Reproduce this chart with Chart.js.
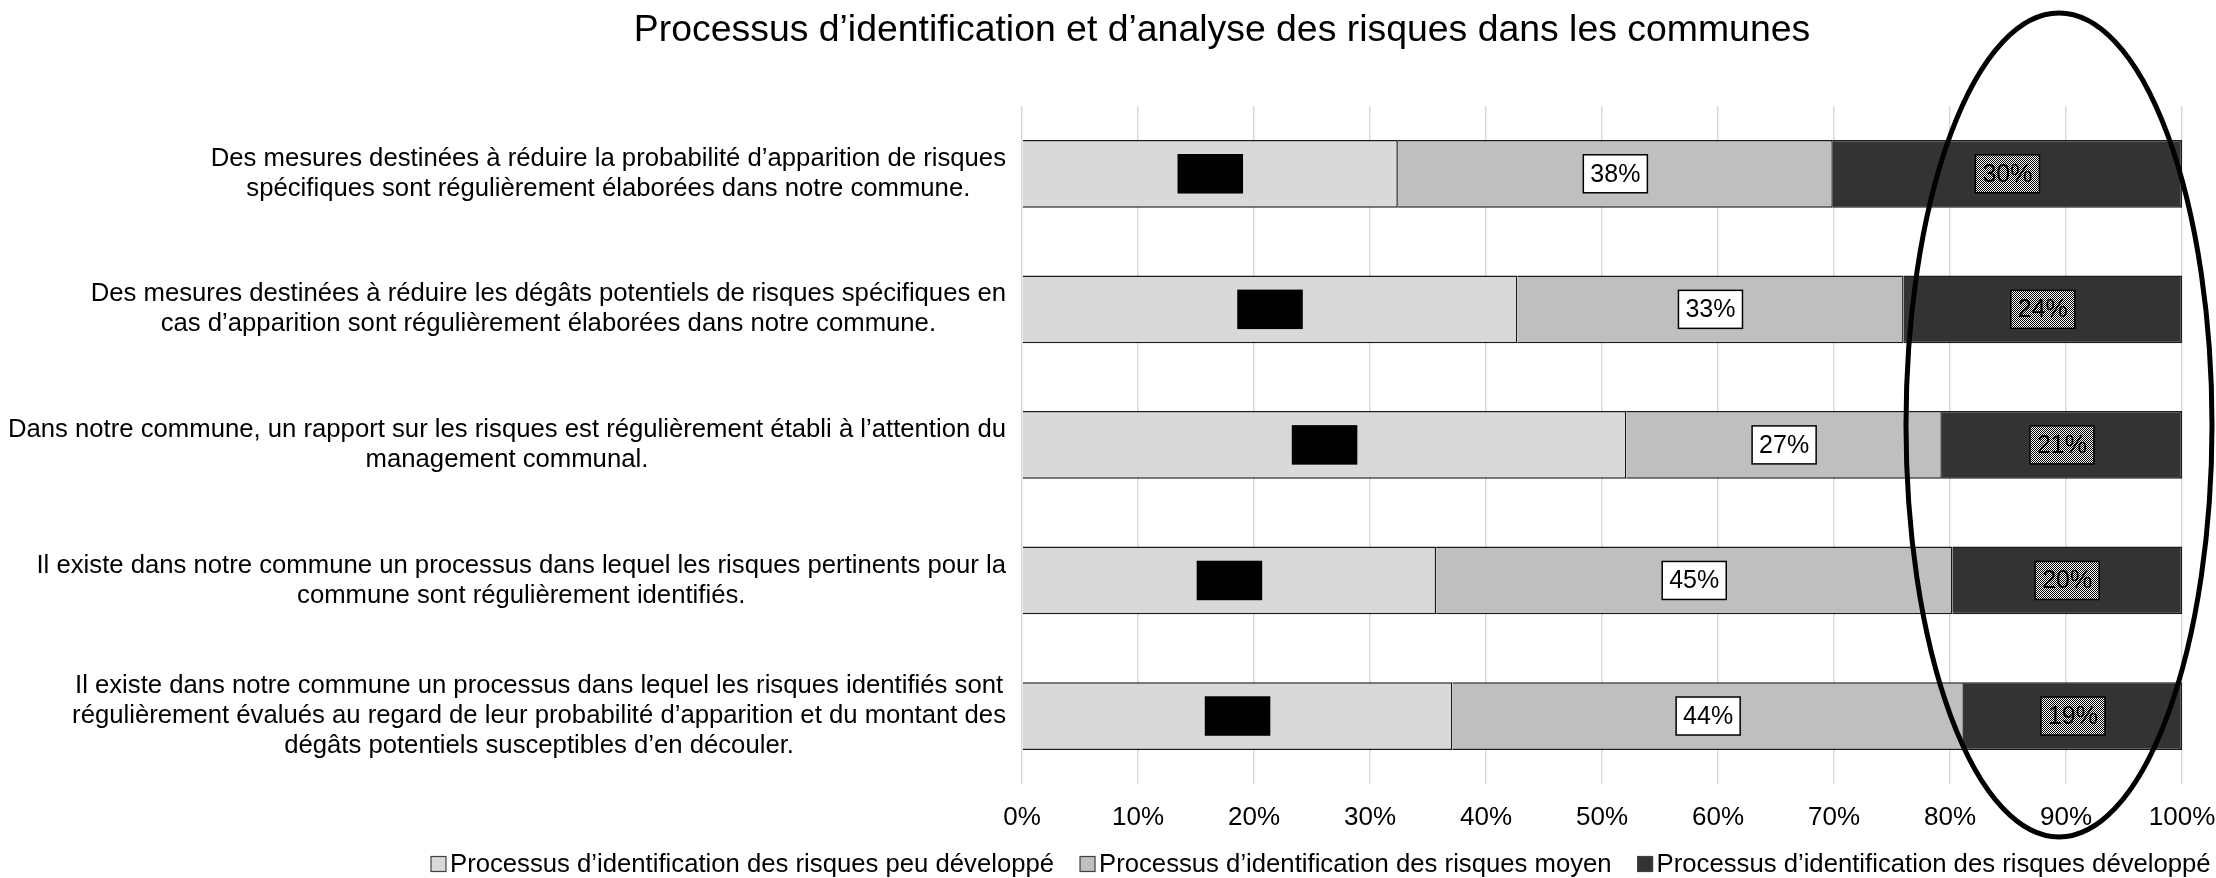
<!DOCTYPE html>
<html>
<head>
<meta charset="utf-8">
<script src="https://cdn.jsdelivr.net/npm/chart.js@4.4.1/dist/chart.umd.min.js"></script>
<style>
  html, body { margin: 0; padding: 0; background: #fff; }
  #wrap { width: 2216px; height: 878px; }
</style>
</head>
<body>
<div id="wrap"><canvas id="riskChart" width="2216" height="878"></canvas></div>
<script>
// Chart data
const chartTitle = 'Processus d’identification et d’analyse des risques dans les communes';

const categories = [
    ['Des mesures destinées à réduire la probabilité d’apparition de risques', 'spécifiques sont régulièrement élaborées dans notre commune.'],
    ['Des mesures destinées à réduire les dégâts potentiels de risques spécifiques en', 'cas d’apparition sont régulièrement élaborées dans notre commune.'],
    ['Dans notre commune, un rapport sur les risques est régulièrement établi à l’attention du', 'management communal.'],
    ['Il existe dans notre commune un processus dans lequel les risques pertinents pour la', 'commune sont régulièrement identifiés.'],
    ['Il existe dans notre commune un processus dans lequel les risques identifiés sont', 'régulièrement évalués au regard de leur probabilité d’apparition et du montant des', 'dégâts potentiels susceptibles d’en découler.']
];

const seriesNames = [
    'Processus d’identification des risques peu développé',
    'Processus d’identification des risques moyen',
    'Processus d’identification des risques développé'
];

const peuDeveloppe = [32.4, 42.7, 52.1, 35.7, 37.1];
const moyen        = [37.5, 33.3, 27.2, 44.5, 44.1];
const developpe    = [30.1, 24.0, 20.7, 19.8, 18.8];

const xTicks = [0, 10, 20, 30, 40, 50, 60, 70, 80, 90, 100];

const FONT = '"Liberation Sans", Arial, sans-serif';

// checkered fill used behind the labels of the dark series
function makeChecker() {
    const c = document.createElement('canvas');
    c.width = 2; c.height = 2;
    const g = c.getContext('2d');
    g.fillStyle = '#fff';
    g.fillRect(0, 0, 2, 2);
    g.fillStyle = '#000';
    g.fillRect(0, 0, 1, 1);
    g.fillRect(1, 1, 1, 1);
    return c;
}

// label boxes drawn at the middle of each segment
const labelBoxes = {
    id: 'labelBoxes',
    afterDatasetsDraw(chart) {
        const ctx = chart.ctx;
        const styles = [
            { fill: '#000', text: '#000' },
            { fill: '#fff', text: '#000' },
            { fill: ctx.createPattern(makeChecker(), 'repeat'), text: '#000' }
        ];
        ctx.save();
        ctx.font = '25px ' + FONT;
        ctx.textAlign = 'center';
        ctx.textBaseline = 'middle';
        chart.data.datasets.forEach((ds, i) => {
            const meta = chart.getDatasetMeta(i);
            meta.data.forEach((bar, j) => {
                const txt = Math.round(ds.data[j]) + '%';
                const cx = (bar.x + bar.base) / 2;
                const cy = bar.y;
                const w = ctx.measureText(txt).width + 14;
                const h = 38;
                ctx.fillStyle = styles[i].fill;
                ctx.fillRect(cx - w / 2, cy - h / 2, w, h);
                ctx.lineWidth = 1.5;
                ctx.strokeStyle = '#000';
                ctx.strokeRect(cx - w / 2, cy - h / 2, w, h);
                ctx.fillStyle = styles[i].text;
                ctx.fillText(txt, cx, cy + 1);
            });
        });
        ctx.restore();
    }
};

// category labels: each block right aligned, its lines centred
const categoryLabels = {
    id: 'categoryLabels',
    afterDraw(chart) {
        const ctx = chart.ctx;
        const yScale = chart.scales.y;
        const right = 1006;
        const lineH = 30;
        ctx.save();
        ctx.font = '25.7px ' + FONT;
        ctx.fillStyle = '#000';
        ctx.textAlign = 'center';
        ctx.textBaseline = 'middle';
        categories.forEach((lines, i) => {
            const y = yScale.getPixelForValue(i);
            const maxW = Math.max(...lines.map(l => ctx.measureText(l).width));
            const cx = right - maxW / 2;
            const top = y - (lines.length - 1) * lineH / 2;
            lines.forEach((l, k) => ctx.fillText(l, cx, top + k * lineH));
        });
        ctx.restore();
    }
};

// legend row under the axis (small boxes, tight gap to the text)
const bottomLegend = {
    id: 'bottomLegend',
    afterDraw(chart) {
        const ctx = chart.ctx;
        let x = 431;
        const y = 864;
        ctx.save();
        ctx.font = '25.7px ' + FONT;
        ctx.textAlign = 'left';
        ctx.textBaseline = 'middle';
        chart.data.datasets.forEach(ds => {
            ctx.fillStyle = ds.backgroundColor;
            ctx.fillRect(x, y - 7.5, 15, 15);
            ctx.lineWidth = 1.2;
            ctx.strokeStyle = '#404040';
            ctx.strokeRect(x, y - 7.5, 15, 15);
            ctx.fillStyle = '#000';
            ctx.fillText(ds.label, x + 19, y + 1);
            x += 19 + ctx.measureText(ds.label).width + 26;
        });
        ctx.restore();
    }
};

// title and the hand-drawn ellipse around the "développé" column
const overlay = {
    id: 'overlay',
    afterDraw(chart) {
        const ctx = chart.ctx;
        ctx.save();
        ctx.font = '37.4px ' + FONT;
        ctx.fillStyle = '#000';
        ctx.textAlign = 'center';
        ctx.textBaseline = 'middle';
        ctx.fillText(chartTitle, 1222, 31);

        ctx.beginPath();
        ctx.ellipse(2059, 425, 153, 412, 0, 0, Math.PI * 2);
        ctx.lineWidth = 5;
        ctx.strokeStyle = '#000';
        ctx.stroke();
        ctx.restore();
    }
};

const ctx = document.getElementById('riskChart').getContext('2d');
new Chart(ctx, {
    type: 'bar',
    data: {
        labels: categories.map(c => c.join(' ')),
        datasets: [
            { label: seriesNames[0], data: peuDeveloppe, backgroundColor: '#d9d9d9', borderColor: '#1a1a1a', borderWidth: 1.5 },
            { label: seriesNames[1], data: moyen, backgroundColor: '#bfbfbf', borderColor: '#1a1a1a', borderWidth: 1.5 },
            { label: seriesNames[2], data: developpe, backgroundColor: '#333333', borderColor: '#1a1a1a', borderWidth: 1.5 }
        ]
    },
    options: {
        indexAxis: 'y',
        responsive: false,
        animation: false,
        layout: { padding: { top: 106, right: 34, left: 0, bottom: 27 } },
        datasets: { bar: { categoryPercentage: 1, barPercentage: 0.5 } },
        scales: {
            x: {
                stacked: true,
                min: 0,
                max: 100,
                afterBuildTicks: scale => { scale.ticks = xTicks.map(v => ({ value: v })); },
                afterFit: scale => { scale.paddingRight = 0; scale.paddingLeft = 0; },
                ticks: {
                    callback: v => v + '%',
                    font: { family: FONT, size: 26 },
                    color: '#000',
                    padding: 18,
                    maxRotation: 0
                },
                grid: { color: '#d9d9d9', lineWidth: 1.5, drawTicks: false },
                border: { display: false }
            },
            y: {
                stacked: true,
                ticks: { display: false },
                grid: { display: false },
                border: { display: false },
                afterFit: scale => { scale.width = 1022; }
            }
        },
        plugins: {
            legend: { display: false },
            title: { display: false },
            tooltip: { enabled: false }
        }
    },
    plugins: [labelBoxes, categoryLabels, bottomLegend, overlay]
});
</script>
</body>
</html>
